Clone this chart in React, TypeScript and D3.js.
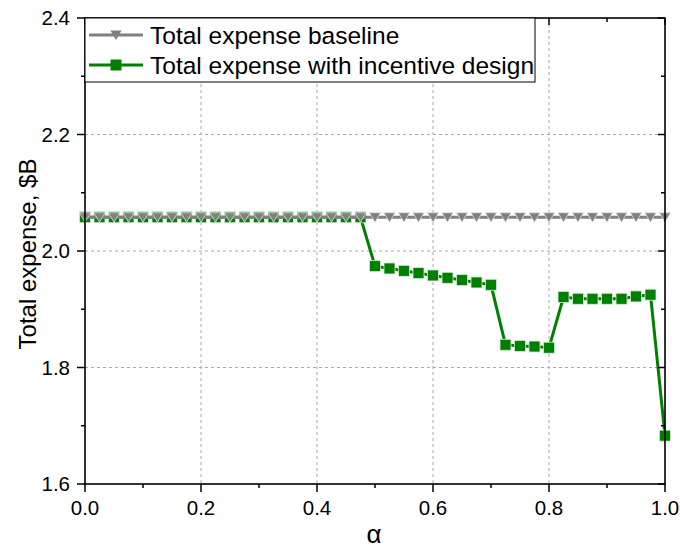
import React from "react";
import * as d3 from "d3";

const alphas: number[] = [
  0, 0.025, 0.05, 0.075, 0.1, 0.125, 0.15, 0.175, 0.2, 0.225, 0.25, 0.275, 0.3, 0.325, 0.35, 0.375,
  0.4, 0.425, 0.45, 0.475, 0.5, 0.525, 0.55, 0.575, 0.6, 0.625, 0.65, 0.675, 0.7, 0.725, 0.75, 0.775,
  0.8, 0.825, 0.85, 0.875, 0.9, 0.925, 0.95, 0.975, 1.0,
];
const baseline: number[] = [
  2.058, 2.058, 2.058, 2.058, 2.058, 2.058, 2.058, 2.058, 2.058, 2.058, 2.058, 2.058, 2.058, 2.058,
  2.058, 2.058, 2.058, 2.058, 2.058, 2.058, 2.058, 2.058, 2.058, 2.058, 2.058, 2.058, 2.058, 2.058,
  2.058, 2.058, 2.058, 2.058, 2.058, 2.058, 2.058, 2.058, 2.058, 2.058, 2.058, 2.058, 2.058,
];
const incentive: number[] = [
  2.058, 2.058, 2.058, 2.058, 2.058, 2.058, 2.058, 2.058, 2.058, 2.058, 2.058, 2.058, 2.058, 2.058,
  2.058, 2.058, 2.058, 2.058, 2.058, 2.058, 1.974, 1.97, 1.966, 1.962, 1.958, 1.954, 1.95, 1.946,
  1.942, 1.839, 1.837, 1.836, 1.834, 1.921, 1.918, 1.918, 1.918, 1.918, 1.922, 1.925, 1.683,
];
const xTicks: number[] = [0, 0.2, 0.4, 0.6, 0.8, 1.0];
const xMinor: number[] = [0.1, 0.3, 0.5, 0.7, 0.9];
const yTicks: number[] = [1.6, 1.8, 2.0, 2.2, 2.4];
const yMinor: number[] = [1.7, 1.9, 2.1, 2.3];
const seriesNames: string[] = ["Total expense baseline", "Total expense with incentive design"];
const xTitle = "α";
const yTitle = "Total expense, $B";

const W = 680, H = 548;
const L = 85, R = 665, T = 18, B = 484;
const GRAY = "#808080";
const GREEN = "#008000";

export default function App() {
  const x = d3.scaleLinear().domain([0, 1]).range([L, R]);
  const y = d3.scaleLinear().domain([1.6, 2.4]).range([B, T]);
  const line = d3
    .line<[number, number]>()
    .x((d) => x(d[0]))
    .y((d) => y(d[1]));
  const basePts: [number, number][] = alphas.map((a, i) => [a, baseline[i]]);
  const incPts: [number, number][] = alphas.map((a, i) => [a, incentive[i]]);
  const tri = (cx: number, cy: number, s: number) =>
    `M${cx - s},${cy - s * 0.8}L${cx + s},${cy - s * 0.8}L${cx},${cy + s * 0.9}Z`;
  const font = "Liberation Sans, Arial, sans-serif";

  return (
    <svg width={W} height={H} style={{ position: "absolute", left: 0, top: 0, background: "#fff" }} fontFamily={font}>
      <rect x={0} y={0} width={W} height={H} fill="#fff" />
      {/* grid */}
      {xTicks.slice(1, -1).map((t) => (
        <line key={"gx" + t} x1={x(t)} x2={x(t)} y1={T} y2={B} stroke="#a8a8a8" strokeWidth={1} strokeDasharray="3,3" />
      ))}
      {yTicks.slice(1, -1).map((t) => (
        <line key={"gy" + t} x1={L} x2={R} y1={y(t)} y2={y(t)} stroke="#a8a8a8" strokeWidth={1} strokeDasharray="3,3" />
      ))}
      {/* incentive series */}
      <path d={line(incPts) || ""} fill="none" stroke={GREEN} strokeWidth={3} />
      {incPts.map((p, i) => (
        <rect key={"s" + i} x={x(p[0]) - 5.5} y={y(p[1]) - 5.5} width={11} height={11} fill={GREEN} stroke="#d8ecd8" strokeWidth={0.8} />
      ))}
      {/* baseline series */}
      <path d={line(basePts) || ""} fill="none" stroke={GRAY} strokeWidth={3} />
      {basePts.map((p, i) => (
        <path key={"t" + i} d={tri(x(p[0]), y(p[1]), 5.6)} fill={GRAY} stroke="#e0e0e0" strokeWidth={0.8} />
      ))}
      {/* frame */}
      <rect x={L} y={T} width={R - L} height={B - T} fill="none" stroke="#000" strokeWidth={1.6} />
      {/* x ticks */}
      {xTicks.map((t) => (
        <g key={"xt" + t}>
          <line x1={x(t)} x2={x(t)} y1={B} y2={B + 8} stroke="#000" strokeWidth={1.5} />
          <line x1={x(t)} x2={x(t)} y1={T} y2={T + 7} stroke="#000" strokeWidth={1.5} />
          <text x={x(t)} y={515} textAnchor="middle" fontSize={20.5}>{t.toFixed(1)}</text>
        </g>
      ))}
      {xMinor.map((t) => (
        <g key={"xm" + t}>
          <line x1={x(t)} x2={x(t)} y1={B} y2={B + 4} stroke="#000" strokeWidth={1.5} />
          <line x1={x(t)} x2={x(t)} y1={T} y2={T + 4} stroke="#000" strokeWidth={1.5} />
        </g>
      ))}
      {/* y ticks */}
      {yTicks.map((t) => (
        <g key={"yt" + t}>
          <line x1={L - 8} x2={L} y1={y(t)} y2={y(t)} stroke="#000" strokeWidth={1.5} />
          <line x1={R - 7} x2={R} y1={y(t)} y2={y(t)} stroke="#000" strokeWidth={1.5} />
          <text x={70} y={y(t) + 7} textAnchor="end" fontSize={20.5}>{t.toFixed(1)}</text>
        </g>
      ))}
      {yMinor.map((t) => (
        <g key={"ym" + t}>
          <line x1={L - 4} x2={L} y1={y(t)} y2={y(t)} stroke="#000" strokeWidth={1.5} />
          <line x1={R - 4} x2={R} y1={y(t)} y2={y(t)} stroke="#000" strokeWidth={1.5} />
        </g>
      ))}
      {/* axis titles */}
      <text x={(L + R) / 2 - 1} y={543} textAnchor="middle" fontSize={26}>{xTitle}</text>
      <text transform={`translate(36,254) rotate(-90)`} textAnchor="middle" fontSize={24}>{yTitle}</text>
      {/* legend */}
      <rect x={L} y={T} width={535 - L} height={82 - T} fill="#fff" stroke="#000" strokeWidth={1} />
      <line x1={89} x2={143} y1={35} y2={35} stroke={GRAY} strokeWidth={3} />
      <path d={tri(116, 35, 5.6)} fill={GRAY} />
      <text x={150} y={44} fontSize={24.5}>{seriesNames[0]}</text>
      <line x1={89} x2={143} y1={65} y2={65} stroke={GREEN} strokeWidth={3} />
      <rect x={110.5} y={59.5} width={11} height={11} fill={GREEN} />
      <text x={150} y={74} fontSize={24.5}>{seriesNames[1]}</text>
    </svg>
  );
}
